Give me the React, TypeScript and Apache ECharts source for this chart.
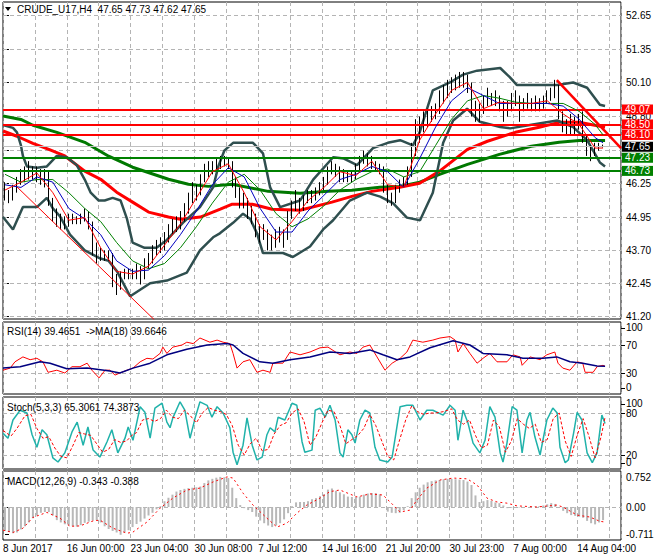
import React, { useEffect, useRef } from "react";
import * as echarts from "echarts";

const FONT = '"Liberation Sans", Arial, sans-serif';
const SLOTS = 155;

const dateLabels = ["8 Jun 2017", "16 Jun 00:00", "23 Jun 04:00", "30 Jun 08:00", "7 Jul 12:00", "14 Jul 16:00", "21 Jul 20:00", "30 Jul 23:00", "7 Aug 00:00", "14 Aug 04:00"];
const priceTicks = [41.2, 42.45, 43.7, 44.95, 46.25, 47.5, 48.8, 50.1, 51.35, 52.65];
const coveredPriceLabel = 47.5;
const rsiTickLabels = ["100", "70", "30", "0"];
const rsiTickPos = [94.3, 70, 30, 8.6];
const stochTickLabels = ["100", "80", "20", "0"];
const stochTickPos = [92.9, 80, 20, 8.6];
const macdTickLabels = ["0.752", "0.00", "-0.711"];
const macdTickPos = [0.752, 0, -0.711];

const titleText = "CRUDE_U17,H4  47.65 47.73 47.62 47.65";
const rsiTitle = "RSI(14) 39.4651  ->MA(18) 39.6646";
const stochTitle = "Stoch(5,3,3) 65.3061 74.3873";
const macdTitle = "MACD(12,26,9) -0.343 -0.388";

const redLevels = [49.07, 48.5, 48.1];
const greenLevels = [47.23, 46.73];
const lastPrice = 47.65;

const opens = [
  46.1, 45.9, 45.7, 46.0, 46.3, 46.6, 46.5, 46.8, 46.6, 46.7,
  46.5, 46.6, 45.6, 45.0, 44.9, 44.7, 44.8, 44.9, 44.9, 44.85,
  44.9, 45.1, 44.7, 43.8, 43.4, 43.6, 43.5, 43.5, 42.6, 42.3,
  42.7, 42.8, 42.85, 42.8, 43.0, 42.9, 43.2, 43.3, 43.6, 43.9,
  43.8, 44.1, 44.4, 44.7, 44.6, 44.9, 45.2, 45.6, 46.0, 45.9,
  46.4, 46.7, 46.9, 46.8, 46.9, 47.0, 47.1, 47.0, 46.3, 46.0,
  45.8, 45.6, 45.3, 45.0, 44.6, 44.3, 44.4, 44.1, 43.9, 44.3,
  44.4, 44.2, 45.0, 45.3, 45.6, 45.3, 45.6, 45.8, 45.7, 45.9,
  46.1, 46.3, 46.7, 46.9, 46.8, 46.5, 46.6, 46.4, 46.5, 46.8,
  47.1, 47.3, 47.2, 47.0, 46.9, 46.8, 46.1, 45.8, 45.6, 46.0,
  46.2, 46.3, 46.6, 47.5, 48.0, 48.4, 48.7, 48.8, 48.9, 49.0,
  49.5, 49.7, 49.9, 50.0, 50.1, 50.2, 50.3, 50.0, 49.3, 48.9,
  49.0, 49.3, 49.5, 49.4, 49.5, 49.3, 48.9, 49.1, 49.4, 49.5,
  49.2, 49.3, 49.4, 49.2, 49.3, 49.2, 49.4, 49.6, 49.7, 49.9,
  48.9, 48.5, 48.3, 48.6, 48.4, 48.7, 48.0, 47.5, 47.4, 47.6,
  47.65,
];
const closes = [
  45.9, 45.7, 46.0, 46.3, 46.6, 46.5, 46.8, 46.6, 46.7, 46.5,
  46.6, 45.6, 45.0, 44.9, 44.7, 44.8, 44.9, 44.9, 44.85, 44.9,
  45.1, 44.7, 43.8, 43.4, 43.6, 43.5, 43.5, 42.6, 42.3, 42.7,
  42.8, 42.85, 42.8, 43.0, 42.9, 43.2, 43.3, 43.6, 43.9, 43.8,
  44.1, 44.4, 44.7, 44.6, 44.9, 45.2, 45.6, 46.0, 45.9, 46.4,
  46.7, 46.9, 46.8, 46.9, 47.0, 47.1, 47.0, 46.3, 46.0, 45.8,
  45.6, 45.3, 45.0, 44.6, 44.3, 44.4, 44.1, 43.9, 44.3, 44.4,
  44.2, 45.0, 45.3, 45.6, 45.3, 45.6, 45.8, 45.7, 45.9, 46.1,
  46.3, 46.7, 46.9, 46.8, 46.5, 46.6, 46.4, 46.5, 46.8, 47.1,
  47.3, 47.2, 47.0, 46.9, 46.8, 46.1, 45.8, 45.6, 46.0, 46.2,
  46.3, 46.6, 47.5, 48.0, 48.4, 48.7, 48.8, 48.9, 49.0, 49.5,
  49.7, 49.9, 50.0, 50.1, 50.2, 50.3, 50.0, 49.3, 48.9, 49.0,
  49.3, 49.5, 49.4, 49.5, 49.3, 48.9, 49.1, 49.4, 49.5, 49.2,
  49.3, 49.4, 49.2, 49.3, 49.2, 49.4, 49.6, 49.7, 49.9, 48.9,
  48.5, 48.3, 48.6, 48.4, 48.7, 48.0, 47.5, 47.4, 47.6, 47.6,
  47.65,
];
const lows = [
  45.6, 45.5, 45.6, 45.9, 46.2, 46.3, 46.4, 46.4, 46.3, 46.2,
  46.1, 45.4, 44.8, 44.6, 44.5, 44.5, 44.6, 44.7, 44.7, 44.7,
  44.8, 44.5, 43.5, 43.2, 43.3, 43.3, 43.3, 42.3, 42.0, 42.2,
  42.6, 42.6, 42.6, 42.6, 42.4, 42.6, 43.0, 43.2, 43.5, 43.6,
  43.7, 44.0, 44.3, 44.4, 44.5, 44.8, 45.1, 45.5, 45.6, 45.8,
  46.3, 46.5, 46.6, 46.7, 46.8, 46.9, 46.8, 46.1, 45.7, 45.3,
  45.3, 44.9, 44.7, 44.2, 44.0, 44.1, 43.7, 43.7, 43.8, 44.0,
  43.8, 44.1, 44.9, 45.2, 45.1, 45.2, 45.5, 45.5, 45.6, 45.8,
  46.0, 46.2, 46.6, 46.5, 46.3, 46.3, 46.3, 46.3, 46.4, 46.7,
  47.0, 46.9, 46.8, 46.7, 46.6, 45.9, 45.5, 45.4, 45.5, 45.9,
  46.1, 46.2, 46.5, 47.3, 47.8, 48.2, 48.4, 48.6, 48.7, 48.9,
  49.3, 49.5, 49.7, 49.8, 49.9, 49.9, 49.7, 48.8, 48.6, 48.6,
  48.9, 49.2, 49.2, 49.2, 49.0, 48.6, 48.8, 49.0, 49.2, 48.6,
  49.0, 49.1, 49.0, 49.0, 49.0, 49.1, 49.3, 49.4, 49.5, 48.7,
  48.2, 48.1, 48.1, 48.1, 48.3, 47.8, 47.3, 47.1, 47.3, 47.5,
  47.62,
];
const highs = [
  46.3, 46.0, 46.2, 46.5, 46.8, 46.9, 47.1, 46.9, 46.9, 46.8,
  46.8, 46.7, 45.7, 45.3, 45.1, 45.0, 45.1, 45.1, 45.0, 45.1,
  45.3, 45.2, 44.8, 44.0, 43.8, 43.7, 43.7, 43.6, 42.8, 42.9,
  43.0, 43.0, 43.0, 43.2, 43.1, 43.4, 43.6, 43.9, 44.1, 44.2,
  44.4, 44.7, 44.9, 45.0, 45.2, 45.5, 45.9, 46.3, 46.2, 46.6,
  47.0, 47.1, 47.1, 47.2, 47.3, 47.3, 47.2, 47.1, 46.5, 46.1,
  45.9, 45.7, 45.4, 45.1, 44.7, 44.7, 44.5, 44.3, 44.5, 44.6,
  44.5, 45.2, 45.6, 46.0, 45.7, 45.8, 46.0, 46.0, 46.1, 46.3,
  46.5, 46.9, 47.1, 47.0, 46.9, 46.8, 46.7, 46.7, 47.0, 47.3,
  47.5, 47.4, 47.3, 47.1, 47.0, 46.9, 46.2, 45.9, 46.2, 46.4,
  46.5, 46.9, 47.8, 48.7, 48.8, 49.0, 49.1, 49.2, 49.3, 49.8,
  50.0, 50.2, 50.3, 50.4, 50.5, 50.5, 50.4, 50.1, 49.4, 49.3,
  49.6, 49.9, 49.7, 49.8, 49.6, 49.4, 49.4, 49.7, 49.8, 49.6,
  49.5, 49.7, 49.5, 49.6, 49.5, 49.6, 49.8, 49.9, 50.2, 50.0,
  49.0, 48.7, 48.9, 48.8, 48.9, 49.0, 48.1, 47.7, 47.8, 47.8,
  47.73,
];

// [bar index, price]
const bbUpper = [[-0.5, 48.48], [2, 48.37], [3, 48.2], [4, 47.7], [4.5, 47.3], [5.5, 46.9], [8, 46.85], [10.5, 46.9], [13, 47.3], [15.5, 47.25], [18, 46.95], [20, 46.4], [21.5, 45.9], [23.5, 45.6], [25, 45.6], [27, 45.7], [29, 45.6], [30.6, 44.9], [32, 44.0], [35, 43.8], [38, 43.8], [40.6, 44.1], [44.6, 44.75], [48.9, 45.35], [52.2, 46.1], [53.5, 46.9], [55, 47.5], [57.2, 47.8], [62.2, 47.8], [64.7, 47.4], [66.5, 46.1], [69, 45.35], [74, 45.6], [77.3, 46.4], [82.3, 47.25], [85, 47.2], [88.3, 46.95], [92.3, 47.6], [96, 47.8], [99.1, 47.9], [102.3, 47.7], [104, 48.2], [107.3, 49.8], [111.6, 50.1], [114.9, 50.4], [118.4, 50.55], [124.2, 50.65], [126.6, 50.3], [128.4, 50.0], [138.5, 50.0], [142.5, 50.1], [146, 49.9], [149.2, 49.25], [150.5, 49.2]];
const bbLower = [[-0.5, 44.97], [2, 44.5], [4.5, 45.35], [8, 45.35], [10.5, 45.7], [12, 45.3], [13.8, 45.0], [16.3, 44.3], [20, 43.7], [23.8, 43.4], [26, 43.3], [28.1, 42.9], [31.4, 41.95], [36.4, 42.45], [40.6, 42.55], [45.6, 42.85], [48.9, 43.7], [52.2, 44.2], [53.9, 44.35], [57.2, 44.75], [59.7, 45.1], [61.5, 44.9], [63.2, 44.35], [64.7, 43.6], [69.7, 43.6], [72.2, 43.45], [76.5, 43.85], [79.8, 44.5], [82.3, 44.85], [86.5, 45.6], [90.8, 45.9], [94.1, 45.75], [97.3, 45.5], [100.8, 44.95], [104.1, 44.85], [107.3, 45.9], [109.9, 47.8], [112.4, 48.65], [115.9, 49.1], [119.1, 48.6], [124.2, 48.4], [126.7, 48.35], [132.4, 48.5], [138.5, 48.65], [142.5, 48.4], [146, 47.9], [149.2, 47.05], [150.5, 46.9]];
const maSlowRed = [[-0.5, 48.25], [3, 48.05], [7, 47.78], [11, 47.55], [15, 47.3], [20, 46.72], [24, 46.41], [28, 45.92], [32, 45.54], [36, 45.16], [41, 44.97], [44, 44.89], [49, 44.97], [54, 45.27], [57, 45.46], [62, 45.46], [67, 45.27], [74, 45.23], [82, 45.54], [87, 45.76], [92, 45.95], [99, 46.11], [104, 46.26], [109, 46.72], [116, 47.55], [121, 47.86], [128, 48.2], [134, 48.39], [139, 48.58], [144, 48.58], [150.5, 48.39]];
const maSlowGreen = [[-0.5, 48.82], [4, 48.69], [7, 48.47], [13, 48.2], [20, 47.82], [26, 47.29], [32, 46.87], [41, 46.41], [46, 46.22], [51, 46.14], [57, 46.22], [66, 45.95], [74, 45.88], [81, 45.95], [87, 45.99], [94, 46.11], [99, 46.14], [104, 46.3], [109, 46.6], [116, 46.98], [124, 47.36], [132, 47.67], [139, 47.82], [144, 47.89], [150.5, 47.89]];
const maFastRed = [[0, 46.0], [4, 46.3], [8, 46.65], [12, 45.9], [16, 44.85], [20, 44.95], [24, 43.8], [28, 42.9], [32, 42.8], [36, 43.1], [40, 43.9], [44, 44.7], [48, 45.7], [52, 46.7], [56, 47.0], [60, 45.9], [64, 44.6], [68, 44.1], [72, 44.8], [76, 45.6], [80, 46.1], [84, 46.7], [88, 46.55], [92, 47.1], [96, 46.2], [100, 46.1], [104, 47.9], [108, 48.9], [112, 49.8], [116, 50.1], [120, 49.1], [124, 49.35], [128, 49.3], [132, 49.3], [136, 49.4], [140, 48.9], [144, 48.5], [148, 47.6], [150, 47.6]];
const maFastBlue = [[0, 46.2], [4, 46.1], [8, 46.5], [12, 46.3], [16, 45.3], [20, 44.9], [24, 44.3], [28, 43.3], [32, 42.9], [36, 42.95], [40, 43.5], [44, 44.3], [48, 45.2], [52, 46.2], [56, 46.85], [60, 46.5], [64, 45.3], [68, 44.4], [72, 44.4], [76, 45.2], [80, 45.8], [84, 46.4], [88, 46.6], [92, 46.9], [96, 46.7], [100, 46.1], [104, 47.2], [108, 48.4], [112, 49.4], [116, 49.9], [120, 49.6], [124, 49.3], [128, 49.3], [132, 49.3], [136, 49.3], [140, 49.2], [144, 48.7], [148, 48.0], [150, 47.8]];
const maMidGreen = [[0, 46.6], [4, 46.3], [8, 46.4], [12, 46.4], [16, 45.9], [20, 45.3], [24, 44.8], [28, 44.0], [32, 43.3], [36, 43.0], [40, 43.2], [44, 43.8], [48, 44.6], [52, 45.5], [56, 46.3], [60, 46.6], [64, 46.0], [68, 45.1], [72, 44.6], [76, 44.9], [80, 45.4], [84, 46.0], [88, 46.4], [92, 46.7], [96, 46.8], [100, 46.5], [104, 46.7], [108, 47.7], [112, 48.7], [116, 49.4], [120, 49.6], [124, 49.5], [128, 49.35], [132, 49.3], [136, 49.3], [140, 49.3], [144, 49.0], [148, 48.5], [150, 48.1]];
const trendDown = [[138.4, 50.19], [154.5, 47.6]];
const trendThin = [[3, 46.12], [37.5, 41.05]];

const rsiLine = [[-0.5, 34], [1.3, 37], [2.5, 46], [4.5, 53], [6.3, 49], [8, 51], [9.5, 46], [10.8, 31], [13, 34], [15, 30], [16.8, 39], [18.8, 39], [20.6, 44], [21.8, 34], [23.6, 23], [25.1, 34], [26.3, 34], [27.6, 27], [28.8, 30], [30.6, 34], [32.1, 37], [33.9, 46], [35.6, 51], [37.1, 50], [38.9, 58], [39.6, 67], [40.6, 58], [42.1, 67], [44.4, 70], [45.6, 74], [47.2, 72], [48.9, 80], [51.4, 74], [53.2, 77], [54.7, 74], [56.4, 72], [57.2, 58], [58.2, 37], [59.7, 46], [61.4, 49], [63.2, 31], [64.7, 34], [66.5, 31], [67.2, 44], [69.7, 44], [71.5, 60], [74, 56], [76.5, 60], [79, 66], [81, 67], [84, 56], [86.5, 60], [88.3, 58], [89.8, 67], [91.5, 70], [93.3, 53], [95.3, 34], [97.1, 44], [99.1, 51], [100.8, 60], [102.3, 77], [104.8, 74], [107.3, 77], [109.1, 80], [111.6, 82], [112.9, 77], [113.6, 60], [114.9, 72], [116.6, 58], [118.4, 44], [119.9, 51], [121.6, 58], [123.4, 46], [125.9, 46], [127.4, 56], [129.2, 53], [129.7, 41], [131.7, 53], [134.2, 49], [135.9, 56], [137.9, 60], [138.7, 44], [139.9, 37], [141.7, 34], [143.5, 46], [144.9, 44], [145.5, 31], [147.5, 31], [148.5, 39], [150, 41], [150.5, 39.5]];
const rsiMa = [[-0.5, 37], [3.8, 39], [8.8, 46], [11.3, 44], [15.5, 36], [20.6, 37], [26.3, 33], [28.8, 30], [32.1, 37], [36.4, 44], [40.6, 56], [45.6, 64], [50.7, 70], [55.7, 72], [57.2, 70], [59.7, 58], [63.9, 46], [67.2, 44], [71.5, 49], [76.5, 53], [81.5, 60], [86.5, 58], [91.5, 63], [94.8, 56], [98.3, 49], [101.6, 53], [106.6, 66], [112.4, 76], [116.6, 70], [119.9, 58], [125.9, 56], [129.9, 51], [134.9, 51], [138.4, 53], [141.7, 46], [144.9, 44], [148.5, 40], [150.5, 39.7]];

const stochMain = [[-0.5, 51], [0.75, 44], [2, 70], [3.8, 84], [5.5, 80], [6.8, 49], [8, 31], [9.3, 56], [10.5, 49], [12, 16], [13.3, 10], [15, 23], [16.8, 53], [18.1, 67], [19.6, 34], [20.8, 60], [22.1, 27], [23.8, 17], [25.6, 39], [26.8, 56], [28.3, 23], [30.1, 44], [30.9, 60], [32.1, 41], [33.9, 89], [35.1, 81], [36.4, 44], [37.6, 87], [39.4, 94], [40.6, 67], [41.4, 59], [42.1, 73], [43.9, 96], [45.1, 84], [46.4, 44], [47.7, 73], [48.9, 96], [50.7, 91], [51.9, 74], [53.2, 89], [54.7, 80], [56.4, 59], [57.2, 24], [58.2, 6], [59.7, 34], [60.7, 73], [62, 34], [63.2, 13], [64.5, 17], [65.7, 49], [66.5, 59], [67.7, 53], [68.5, 74], [70.2, 70], [72, 94], [73.2, 91], [74.5, 39], [75.2, 24], [77, 27], [77.8, 84], [79, 87], [80.3, 74], [81.5, 91], [82.8, 70], [84, 23], [84.8, 17], [86, 56], [87, 49], [87.8, 37], [89, 70], [90.3, 84], [91.5, 80], [92.8, 31], [94, 13], [96, 10], [97.1, 17], [99.1, 89], [100.8, 91], [102.3, 91], [104.1, 70], [105.8, 84], [107.3, 84], [109.9, 77], [111.6, 91], [112.9, 84], [113.6, 41], [114.9, 84], [116.1, 66], [117.4, 37], [119.1, 23], [120.4, 41], [121.6, 89], [122.9, 74], [124.2, 23], [124.9, 10], [125.9, 37], [127.2, 89], [128.4, 84], [129.7, 23], [130.9, 70], [131.7, 81], [132.9, 46], [134.2, 20], [135.9, 70], [137.4, 87], [138.5, 80], [139.2, 31], [140.5, 9], [141.3, 13], [142.6, 51], [143.5, 81], [144.7, 70], [146, 23], [147.3, 9], [148.5, 23], [149.7, 77], [150.5, 65]];
const stochSignal = [[-0.5, 55], [1.5, 47], [3, 58], [5, 76], [6.5, 78], [8, 58], [9.5, 44], [11, 46], [12.5, 30], [14, 18], [15.5, 16], [17, 33], [18.5, 52], [20, 50], [21.5, 48], [23, 36], [24.5, 24], [26, 28], [27.5, 42], [29, 38], [30.5, 40], [31.8, 48], [33, 52], [34.5, 70], [36, 72], [37.5, 68], [39, 72], [40.5, 84], [42, 74], [43.5, 72], [45, 84], [46.5, 76], [48, 66], [49.5, 80], [51, 88], [52.5, 84], [54, 82], [55.5, 78], [57, 62], [58.5, 34], [60, 20], [61.5, 36], [63, 44], [64.5, 26], [66, 28], [67.5, 50], [69, 62], [70.5, 66], [72, 80], [73.5, 86], [75, 68], [76.5, 34], [78, 46], [79.5, 66], [81, 84], [82.5, 82], [84, 62], [85.5, 36], [87, 42], [88.5, 48], [90, 58], [91.5, 78], [93, 62], [94.5, 40], [96, 18], [97.5, 13], [99, 42], [100.5, 70], [102, 90], [103.5, 82], [105, 78], [106.5, 80], [108, 80], [110, 82], [112, 86], [113.5, 70], [115, 64], [116.5, 70], [118, 48], [119.5, 30], [121, 34], [122.5, 70], [124, 60], [125.5, 24], [127, 40], [128.5, 72], [130, 64], [131.5, 58], [133, 64], [134.5, 38], [136, 42], [137.5, 72], [139, 80], [140.5, 40], [142, 18], [143.5, 48], [145, 72], [146.5, 46], [148, 16], [149.5, 46], [150.5, 74]];

const macdHist = [
  -0.62, -0.65, -0.68, -0.66, -0.58, -0.5, -0.4, -0.29, -0.22, -0.15,
  -0.13, -0.13, -0.22, -0.34, -0.4, -0.45, -0.48, -0.5, -0.51, -0.47,
  -0.41, -0.38, -0.35, -0.34, -0.4, -0.5, -0.57, -0.62, -0.66, -0.72,
  -0.66, -0.6, -0.52, -0.44, -0.38, -0.3, -0.22, -0.15, -0.06, 0.02,
  0.15, 0.24, 0.32, 0.4, 0.44, 0.47, 0.49, 0.5, 0.51, 0.53,
  0.62, 0.69, 0.73, 0.76, 0.78, 0.77, 0.75, 0.5, 0.23, 0.05,
  -0.03, -0.08, -0.13, -0.25, -0.35, -0.42, -0.48, -0.52, -0.48, -0.42,
  -0.32, -0.16, 0.02, 0.12, 0.13, 0.13, 0.15, 0.2, 0.23, 0.28,
  0.33, 0.45, 0.48, 0.42, 0.38, 0.33, 0.27, 0.26, 0.26, 0.27,
  0.32, 0.35, 0.36, 0.36, 0.33, 0.0, -0.12, -0.15, -0.16, -0.15,
  -0.08, 0.02, 0.23, 0.38, 0.5, 0.58, 0.64, 0.67, 0.69, 0.7,
  0.72, 0.73, 0.73, 0.72, 0.71, 0.7, 0.66, 0.57, 0.3, 0.13,
  0.15, 0.18, 0.16, 0.12, 0.1, 0.04, -0.03, -0.02, 0.0, -0.01,
  0.0, 0.0, 0.01, 0.01, 0.02, 0.04, 0.07, 0.1, 0.08, -0.02,
  -0.1, -0.16, -0.21, -0.23, -0.25, -0.28, -0.36, -0.42, -0.45, -0.4,
  -0.34,
];
const macdSignal = [[-0.5, -0.6], [2, -0.66], [4.5, -0.55], [7, -0.27], [10.5, -0.14], [13.8, -0.29], [16.3, -0.5], [18.8, -0.49], [22.1, -0.36], [23.8, -0.34], [27.1, -0.55], [30.6, -0.68], [32.1, -0.65], [35.6, -0.39], [38.9, -0.03], [42.1, 0.23], [45.6, 0.44], [48.9, 0.49], [52.2, 0.65], [55.7, 0.78], [57.2, 0.75], [59.7, 0.36], [62.2, 0.05], [65.7, -0.29], [68.2, -0.52], [70.7, -0.42], [73.2, -0.16], [75.7, 0.05], [79, 0.23], [81.5, 0.4], [84, 0.44], [88.3, 0.26], [91.5, 0.34], [94.8, 0.31], [96.6, 0.13], [99.1, -0.13], [101.6, -0.08], [103.3, 0.18], [105.8, 0.49], [109.1, 0.7], [112.4, 0.75], [115.9, 0.73], [118.4, 0.57], [120.9, 0.23], [123.4, 0.13], [125.9, 0.1], [128.4, 0.03], [133.4, 0.0], [138.4, 0.05], [139.9, 0.0], [143.5, -0.21], [146.7, -0.26], [149.2, -0.37], [150.5, -0.39]];

const GRID_LINE = { color: "#b4b4b4", type: [4, 3] as any, width: 1 };
const AXIS_TEXT_X = 626;

function txt(text: string, x: number, y: number, id: string, zlevel = 0) {
  return {
    type: "text", id, x, y, silent: true, z: 100, zlevel,
    style: { text, fill: "#000", font: `10px ${FONT}`, verticalAlign: "middle", align: "left" },
  };
}

function baseGraphics(): any[] {
  return [
    { type: "polygon", id: "tri", shape: { points: [[5, 7], [11, 7], [8, 11]] }, style: { fill: "#000" }, z: 100, silent: true },
    txt(titleText, 17, 9, "t0"),
    txt(rsiTitle, 7, 331, "t1"),
    txt(stochTitle, 7, 407, "t2"),
    txt(macdTitle, 7, 481, "t3"),
  ];
}

function buildOption(): any {
  const grids = [
    { top: 2, height: 317 },
    { top: 322, height: 72 },
    { top: 397, height: 72 },
    { top: 471, height: 69 },
  ].map((g) => ({ ...g, left: 3, right: 39, show: true, borderColor: "#000", borderWidth: 1, backgroundColor: "#fff", outerBoundsMode: "none", containLabel: false }));

  const slots = Array.from({ length: SLOTS }, (_, i) => String(i));
  const xAxis: any[] = [];
  for (let g = 0; g < 4; g++) {
    xAxis.push({ type: "category", gridIndex: g, position: "top", data: slots, boundaryGap: true, show: false });
    xAxis.push({
      type: "value", gridIndex: g, position: "bottom", min: -0.5, max: SLOTS - 0.5, interval: 8,
      axisLine: { show: false }, axisTick: { show: false },
      splitLine: { show: true, lineStyle: GRID_LINE },
      axisLabel: g === 3 ? {
        show: true, align: "left", margin: 3, color: "#000", fontSize: 10, fontFamily: FONT,
        showMaxLabel: false, hideOverlap: false,
        formatter: (v: number) => {
          const k = Math.round((v + 0.5) / 8);
          if (Math.abs(v + 0.5 - k * 8) > 0.01 || k % 2 !== 0) return "";
          return dateLabels[k / 2] ?? "";
        },
      } : { show: false },
    });
  }

  const yBase = (g: number, min: number, max: number, ticks: number[] | null, labels: number[] | null) => ({
    type: "value", gridIndex: g, position: "right", min, max,
    axisLine: { show: false },
    axisTick: ticks ? { show: true, length: 4, customValues: ticks, lineStyle: { color: "#000" } } : { show: false },
    axisLabel: labels
      ? { show: true, customValues: labels, formatter: (v: number) => v.toFixed(2), margin: 5, color: "#000", fontSize: 10, fontFamily: FONT, hideOverlap: false }
      : { show: false },
    splitLine: { show: false },
  });

  const yAxis = [
    yBase(0, 41.086, 53.166, priceTicks, priceTicks.filter((v) => v !== coveredPriceLabel)),
    yBase(1, 0, 102.86, null, null),
    yBase(2, 0, 102.86, null, null),
    yBase(3, -0.855, 0.933, macdTickPos, null),
  ];

  const gridMarks = (g: number, vals: number[]) => ({
    type: "line", xAxisIndex: 2 * g + 1, yAxisIndex: g, data: [], z: 1, silent: true,
    markLine: { silent: true, symbol: "none", z: 1, animation: false, label: { show: false }, lineStyle: GRID_LINE, data: vals.map((v) => ({ yAxis: v })) },
  });

  const line = (g: number, data: number[][], color: string, width: number, type: any = "solid", z = 3) => ({
    type: "line", xAxisIndex: 2 * g + 1, yAxisIndex: g, data, showSymbol: false, symbol: "none",
    lineStyle: { color, width, type }, z, silent: true, clip: true,
  });

  const tag = (v: number, color: string, bg: string, width: number) => ({
    yAxis: v,
    lineStyle: { color, width, type: "solid" },
    label: {
      show: true, position: "end", distance: 1, formatter: v.toFixed(2), color: "#fff",
      backgroundColor: bg, padding: [0, 3, 0, 3], lineHeight: 10, fontSize: 10, fontFamily: FONT,
    },
  });

  const candles = closes.map((c, i) => [opens[i], c, lows[i], highs[i]]);

  const series: any[] = [
    gridMarks(0, priceTicks),
    gridMarks(1, [30, 70]),
    gridMarks(2, [20, 80]),
    gridMarks(3, [0]),
    line(0, maSlowGreen, "#007800", 3),
    line(0, maSlowRed, "#ff0000", 3),
    line(0, bbUpper, "#2f4f4f", 2.5),
    line(0, bbLower, "#2f4f4f", 2.5),
    {
      type: "candlestick", xAxisIndex: 0, yAxisIndex: 0, data: candles, barWidth: 1, z: 4, silent: true,
      itemStyle: { color: "#000", color0: "#000", borderColor: "#000", borderColor0: "#000", borderWidth: 1 },
    },
    line(0, maMidGreen, "#008000", 1, "solid", 5),
    line(0, maFastBlue, "#0000c0", 1, "solid", 5),
    line(0, maFastRed, "#ff0000", 1, "solid", 5),
    line(0, trendThin, "#ff0000", 1, "solid", 5),
    line(0, trendDown, "#ff0000", 2.5, "solid", 6),
    {
      type: "line", xAxisIndex: 1, yAxisIndex: 0, data: [], z: 6, silent: true,
      markLine: {
        silent: true, symbol: "none", animation: false,
        data: [
          tag(lastPrice, "#c0c0c0", "#000", 1),
          ...redLevels.map((v) => tag(v, "#ff0000", "#ff0000", 2)),
          ...greenLevels.map((v) => tag(v, "#008000", "#008000", 2)),
        ],
      },
    },
    line(1, rsiLine, "#ff0000", 1),
    line(1, rsiMa, "#000080", 1.5),
    line(2, stochMain, "#20b2aa", 1.5),
    line(2, stochSignal, "#ff0000", 1, [3, 2]),
    {
      type: "bar", xAxisIndex: 6, yAxisIndex: 3, data: macdHist, barWidth: 2, silent: true,
      itemStyle: { color: "#b8b8b8" }, z: 2,
    },
    line(3, macdSignal, "#ff0000", 1, [2, 3]),
  ];

  return {
    animation: false,
    backgroundColor: "#fff",
    textStyle: { fontFamily: FONT },
    grid: grids,
    xAxis,
    yAxis,
    series,
    graphic: baseGraphics(),
  };
}

export default function App() {
  const ref = useRef<HTMLDivElement>(null);
  useEffect(() => {
    if (!ref.current) return;
    const chart = echarts.init(ref.current, null, { renderer: "svg" });
    chart.setOption(buildOption());
    const yOf = (g: number, v: number) => chart.convertToPixel({ yAxisIndex: g } as any, v) as unknown as number;
    const extra: any[] = [];
    const panes: [number, number[], string[]][] = [
      [1, rsiTickPos, rsiTickLabels],
      [2, stochTickPos, stochTickLabels],
      [3, macdTickPos, macdTickLabels],
    ];
    panes.forEach(([g, pos, labels]) => {
      pos.forEach((p, i) => {
        const y = yOf(g, p);
        extra.push(txt(labels[i], AXIS_TEXT_X, y, `ax${g}_${i}`, 5));
        if (g !== 3) {
          // small axis tick mark on the right of the pane border
          extra.push({
            type: "line", id: `tk${g}_${i}`, silent: true, z: 100, zlevel: 5,
            shape: { x1: 621, y1: Math.round(y) + 0.5, x2: 625, y2: Math.round(y) + 0.5 },
            style: { stroke: "#000", lineWidth: 1 },
          });
        }
      });
    });
    chart.setOption({ graphic: [...baseGraphics(), ...extra] });
    return () => chart.dispose();
  }, []);
  return <div ref={ref} style={{ position: "fixed", left: 0, top: 0, width: 660, height: 560, background: "#fff" }} />;
}
